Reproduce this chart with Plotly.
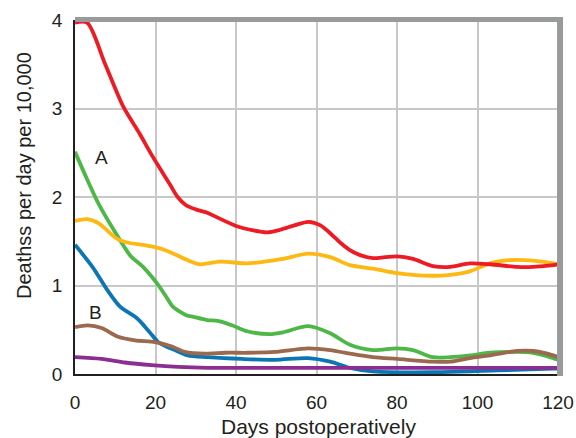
import plotly.graph_objects as go

# Data (days postoperatively, deaths per day per 10,000)
red_x = [0, 3, 7.5, 12, 16, 18.6, 21, 23.6, 25.5, 27.5, 30, 33, 35.3, 40.2, 43.5, 47.7, 51, 54.5, 58, 61, 63.4, 66, 68.3, 71, 74, 77, 80, 84, 88.9, 93.2, 98.1, 103.1, 109.8, 113.8, 118.8, 120]
red_y = [3.97, 3.97, 3.5, 3.02, 2.72, 2.51, 2.33, 2.14, 2.00, 1.91, 1.86, 1.82, 1.77, 1.67, 1.63, 1.60, 1.63, 1.68, 1.72, 1.68, 1.59, 1.48, 1.40, 1.34, 1.31, 1.32, 1.33, 1.30, 1.22, 1.21, 1.25, 1.24, 1.21, 1.21, 1.23, 1.24]

orange_x = [0, 3, 6, 10.4, 13.5, 16.9, 21.1, 24.5, 27.8, 31.1, 36, 42.7, 47, 51.7, 57.9, 63.4, 68.3, 74, 80, 84, 88.9, 93.2, 98.1, 103.1, 106.5, 109.8, 113.8, 118.8, 120]
orange_y = [1.73, 1.75, 1.70, 1.53, 1.48, 1.46, 1.42, 1.36, 1.29, 1.24, 1.27, 1.25, 1.27, 1.30, 1.36, 1.32, 1.23, 1.19, 1.14, 1.12, 1.11, 1.12, 1.16, 1.25, 1.28, 1.29, 1.28, 1.25, 1.24]

green_x = [0, 3, 6, 10.4, 13.7, 16.9, 21.1, 23.1, 24.3, 27.8, 29, 32.8, 35.5, 39, 43, 48.4, 51.7, 57.9, 63.4, 68.3, 74, 80, 84, 88.9, 93.2, 98.1, 103.1, 109.8, 113.8, 118.8, 120]
green_y = [2.51, 2.20, 1.91, 1.57, 1.34, 1.21, 0.98, 0.84, 0.76, 0.66, 0.65, 0.61, 0.60, 0.55, 0.48, 0.45, 0.47, 0.54, 0.46, 0.33, 0.27, 0.29, 0.27, 0.19, 0.19, 0.21, 0.24, 0.25, 0.24, 0.18, 0.16]

blue_x = [0, 4.5, 8, 11.2, 15.4, 18.6, 20.7, 24.8, 28, 33, 41.5, 49.7, 57.9, 63.4, 68.3, 74, 89, 105, 118.8, 120]
blue_y = [1.46, 1.20, 0.95, 0.76, 0.63, 0.47, 0.36, 0.27, 0.21, 0.19, 0.17, 0.16, 0.18, 0.14, 0.07, 0.03, 0.02, 0.04, 0.06, 0.06]

brown_x = [0, 3.2, 6.6, 10.7, 14.9, 19.9, 24.1, 27.3, 32.3, 37.3, 43, 49.7, 57.9, 63.4, 68.3, 74, 80, 88.9, 93.2, 98.1, 103.1, 109.8, 113.8, 118.8, 120]
brown_y = [0.53, 0.55, 0.52, 0.42, 0.38, 0.36, 0.31, 0.25, 0.23, 0.24, 0.24, 0.25, 0.29, 0.27, 0.23, 0.19, 0.17, 0.14, 0.14, 0.18, 0.21, 0.26, 0.26, 0.21, 0.19]

purple_x = [0, 6.6, 12.4, 19, 25.6, 33, 60, 90, 120]
purple_y = [0.19, 0.17, 0.13, 0.10, 0.08, 0.07, 0.07, 0.07, 0.07]

x_ticks = [0, 20, 40, 60, 80, 100, 120]
y_ticks = [0, 1, 2, 3, 4]

series = [
    (green_x, green_y, "#4DB848"),
    (orange_x, orange_y, "#FDB813"),
    (blue_x, blue_y, "#0C76B5"),
    (brown_x, brown_y, "#9B6A4E"),
    (purple_x, purple_y, "#8C2D92"),
    (red_x, red_y, "#ED1C24"),
]

fig = go.Figure()
for xs, ys, col in series:
    fig.add_trace(go.Scatter(x=xs, y=ys, mode="lines",
                             line=dict(color=col, width=3.8, shape="spline", smoothing=0.8),
                             showlegend=False, hoverinfo="skip"))

font_family = "Liberation Sans, Arial, sans-serif"
text_col = "#231F20"

fig.update_layout(
    width=576, height=438,
    margin=dict(l=75, r=18, t=20, b=64),
    paper_bgcolor="white", plot_bgcolor="white",
    font=dict(family=font_family, size=19, color=text_col),
    xaxis=dict(range=[0, 120], tickvals=x_ticks, showgrid=True, gridcolor="#C8C8C8", gridwidth=1.5,
               showline=True, linecolor="#231F20", linewidth=1.5, zeroline=False,
               ticks="outside", ticklen=10, tickcolor="rgba(0,0,0,0)",
               tickfont=dict(size=19), automargin=False),
    yaxis=dict(range=[0, 4], tickvals=y_ticks, showgrid=True, gridcolor="#C8C8C8", gridwidth=1.5,
               showline=True, linecolor="#231F20", linewidth=1.5, zeroline=False,
               ticks="outside", ticklen=7, tickcolor="rgba(0,0,0,0)",
               tickfont=dict(size=19), automargin=False),
    annotations=[
        dict(x=6.6, y=2.45, text="A", showarrow=False, xref="x", yref="y", font=dict(size=19, color=text_col)),
        dict(x=5.2, y=0.70, text="B", showarrow=False, xref="x", yref="y", font=dict(size=19, color=text_col)),
        dict(x=(318 - 75) / 483, y=(374 - 426) / 354, xref="paper", yref="paper", text="Days postoperatively",
             showarrow=False, xanchor="center", yanchor="middle", font=dict(size=21, color=text_col)),
        dict(x=(24 - 75) / 483, y=(374 - 176) / 354, xref="paper", yref="paper", text="Deathss per day per 10,000",
             showarrow=False, xanchor="center", yanchor="middle", textangle=-90, font=dict(size=20, color=text_col)),
    ],
    shapes=[
        dict(type="rect", xref="paper", yref="paper", x0=0, x1=1.0104, y0=0.9944, y1=1.0085,
             fillcolor="#999A9C", line=dict(width=0), layer="above"),
        dict(type="rect", xref="paper", yref="paper", x0=0.998, x1=1.0104, y0=-0.006, y1=1.0085,
             fillcolor="#999A9C", line=dict(width=0), layer="above"),
    ],
)

fig.write_html("out.html", config={"displayModeBar": False},
               post_script="document.body.style.margin='0';document.body.style.overflow='hidden';")
